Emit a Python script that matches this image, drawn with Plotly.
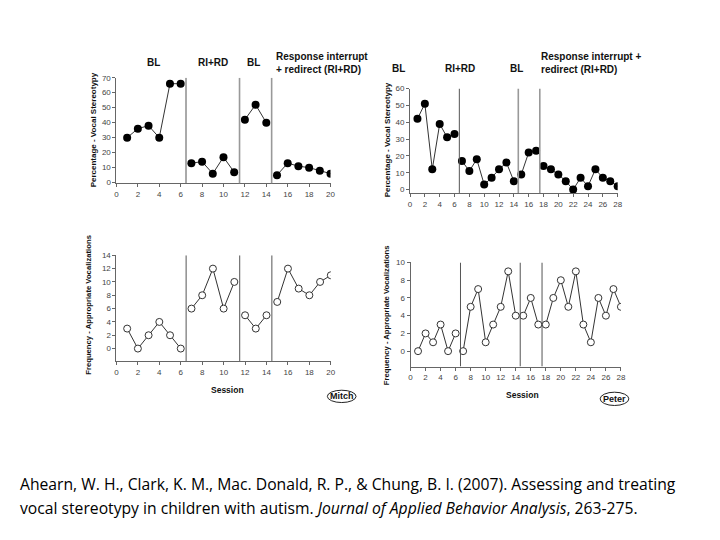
import plotly.graph_objects as go

# The page body adds an 8px margin, so the figure is drawn 8px smaller
# and all reference pixel positions are shifted by that offset.
OFF = 8
W, H = 720 - OFF, 540 - OFF

# ---------------- data ----------------
mitch_sessions = list(range(1, 21))
mitch_stereo = [30, 36, 38, 30, 66, 66, 13, 14, 6, 17, 7, 42, 52, 40, 5, 13, 11, 10, 8, 6]
mitch_vocal = [3, 0, 2, 4, 2, 0, 6, 8, 12, 6, 10, 5, 3, 5, 7, 12, 9, 8, 10, 11]
mitch_phase_ends = [6, 11, 14]          # last session of each phase before a change
mitch_phase_lines = [6.5, 11.5, 14.5]

peter_sessions = list(range(1, 29))
peter_stereo = [42, 51, 12, 39, 31, 33, 17, 11, 18, 3, 7, 12, 16, 5, 9, 22, 23,
                14, 12, 9, 5, 0, 7, 2, 12, 7, 5, 2]
peter_vocal = [0, 2, 1, 3, 0, 2, 0, 5, 7, 1, 3, 5, 9, 4, 4, 6, 3,
               3, 6, 8, 5, 9, 3, 1, 6, 4, 7, 5]
peter_phase_ends = [6, 14, 17]
peter_phase_lines = [6.65, 14.6, 17.5]

mitch_x_ticks = list(range(0, 21, 2))
peter_x_ticks = list(range(0, 29, 2))
mitch_stereo_ticks = list(range(0, 71, 10))
peter_stereo_ticks = list(range(0, 61, 10))
mitch_vocal_ticks = list(range(0, 15, 2))
peter_vocal_ticks = list(range(0, 11, 2))

phase_labels_mitch = ["BL", "RI+RD", "BL"]
phase_labels_peter = ["BL", "RI+RD", "BL"]
ri_label_mitch = "Response interrupt<br>+ redirect (RI+RD)"
ri_label_peter = "Response interrupt +<br>redirect (RI+RD)"
ylab_stereo = "Percentage - Vocal Stereotypy"
ylab_vocal = "Frequency - Appropriate Vocalizations"
citation_1 = "Ahearn, W. H., Clark, K. M., Mac. Donald, R. P., & Chung, B. I. (2007). Assessing and treating"
citation_2 = "vocal stereotypy in children with autism. <i>Journal of Applied Behavior Analysis</i>, 263-275."


def px_x(p):
    return (p - OFF) / W


def px_y(p):
    return 1 - (p - OFF) / H


def with_gaps(xs, ys, ends):
    ox, oy = [], []
    for x, y in zip(xs, ys):
        ox.append(x)
        oy.append(y)
        if x in ends:
            ox.append(None)
            oy.append(None)
    return ox, oy


fig = go.Figure()

panels = [
    # name, xs, ys, ends, lines, xrange, yrange, xdom(px), ydom(px: bottom, top), xticks, yticks, filled
    ("1", mitch_sessions, mitch_stereo, mitch_phase_ends, mitch_phase_lines, [0, 20], [-0.5, 70],
     (115.5, 331.7), (182, 74.7), mitch_x_ticks, mitch_stereo_ticks, True),
    ("2", peter_sessions, peter_stereo, peter_phase_ends, peter_phase_lines, [0, 28], [-2, 60],
     (412, 621.7), (191.7, 85.7), peter_x_ticks, peter_stereo_ticks, True),
    ("3", mitch_sessions, mitch_vocal, mitch_phase_ends, mitch_phase_lines, [0, 20], [-1.86, 14],
     (115.5, 332), (362.3, 255), mitch_x_ticks, mitch_vocal_ticks, False),
    ("4", peter_sessions, peter_vocal, peter_phase_ends, peter_phase_lines, [0, 28], [-1.74, 10],
     (412.5, 625), (368, 262.3), peter_x_ticks, peter_vocal_ticks, False),
]

font_tick = dict(family="Liberation Sans, Arial", size=8, color="#444")
shapes = []
for (name, xs, ys, ends, lines, xr, yr, xd, yd, xt, yt, filled) in panels:
    gx, gy = with_gaps(xs, ys, ends)
    xa = "x" if name == "1" else "x" + name
    ya = "y" if name == "1" else "y" + name
    if filled:
        marker = dict(size=8, color="black", line=dict(width=0))
    else:
        marker = dict(size=7, color="white", symbol="circle", line=dict(width=1, color="#333"))
    fig.add_trace(go.Scatter(x=gx, y=gy, mode="lines+markers", xaxis=xa, yaxis=ya,
                             line=dict(color="#333", width=1), marker=marker,
                             connectgaps=False, showlegend=False, hoverinfo="skip"))
    key = "" if name == "1" else name
    fig.update_layout(**{
        "xaxis" + key: dict(domain=[px_x(xd[0]), px_x(xd[1])], range=xr, anchor=ya,
                            tickvals=xt, ticks="outside", ticklen=3, tickcolor="#666",
                            showline=True, linecolor="#666", linewidth=1, showgrid=False,
                            zeroline=False, tickfont=font_tick, fixedrange=True),
        "yaxis" + key: dict(domain=[px_y(yd[0]), px_y(yd[1])], range=yr, anchor=xa,
                            tickvals=yt, ticks="outside", ticklen=3, tickcolor="#666",
                            showline=True, linecolor="#666", linewidth=1, showgrid=False,
                            zeroline=False, tickfont=font_tick, fixedrange=True),
    })
    for i, lx in enumerate(lines):
        if filled and i > 0:
            style = dict(color="#999", width=1.6)
        else:
            style = dict(color="#555", width=1)
        shapes.append(dict(type="line", xref=xa, yref=ya, x0=lx, x1=lx, y0=yr[0], y1=yr[1],
                           line=style))

# Oval name tags
shapes.append(dict(type="circle", xref="paper", yref="paper",
                   x0=px_x(328.5), x1=px_x(357.5), y0=px_y(404.5), y1=px_y(392),
                   line=dict(color="#222", width=1)))
shapes.append(dict(type="circle", xref="paper", yref="paper",
                   x0=px_x(604), x1=px_x(633), y0=px_y(407.5), y1=px_y(394),
                   line=dict(color="#222", width=1)))
fig.update_layout(shapes=shapes)

bold = dict(family="Liberation Sans, Arial", size=10, color="#111")
anns = []


def ann(text, x, y, xanchor="center", yanchor="middle", font=None, textangle=0, align="center"):
    anns.append(dict(text=text, x=px_x(x), y=px_y(y), xref="paper", yref="paper",
                     xanchor=xanchor, yanchor=yanchor, showarrow=False,
                     font=font or bold, textangle=textangle, align=align,
                     borderpad=0, borderwidth=0))


# Mitch phase labels
ann("<b>%s</b>" % phase_labels_mitch[0], 153, 59)
ann("<b>%s</b>" % phase_labels_mitch[1], 213, 59)
ann("<b>%s</b>" % phase_labels_mitch[2], 254, 59)
ann("<b>%s</b>" % ri_label_mitch, 277, 60, xanchor="left", align="left")
# Peter phase labels
ann("<b>%s</b>" % phase_labels_peter[0], 400, 65)
ann("<b>%s</b>" % phase_labels_peter[1], 462, 65)
ann("<b>%s</b>" % phase_labels_peter[2], 520, 65)
ann("<b>%s</b>" % ri_label_peter, 544, 60, xanchor="left", align="left")

ylab_font_top = dict(family="Liberation Sans, Arial", size=8, color="#111")
ylab_font_bot = dict(family="Liberation Sans, Arial", size=7.7, color="#111")
small_bold = dict(family="Liberation Sans, Arial", size=8.5, color="#111")
ann("<b>%s</b>" % ylab_stereo, 92, 128, font=ylab_font_top, textangle=-90)
ann("<b>%s</b>" % ylab_stereo, 389, 138, font=ylab_font_top, textangle=-90)
ann("<b>%s</b>" % ylab_vocal, 87, 305, font=ylab_font_bot, textangle=-90)
ann("<b>%s</b>" % ylab_vocal, 388.5, 316, font=ylab_font_bot, textangle=-90)
ann("<b>Session</b>", 228, 391.5, font=small_bold)
ann("<b>Session</b>", 526, 397, font=small_bold)
ann("<b>Mitch</b>", 343, 398.3, font=dict(family="Liberation Sans, Arial", size=9, color="#111"))
ann("<b>Peter</b>", 618.5, 400.7, font=dict(family="Liberation Sans, Arial", size=9, color="#111"))

cite_font = dict(family="Open Sans, Liberation Sans", size=15.7, color="#000")
ann(citation_1, 18, 487, xanchor="left", align="left", font=cite_font)
ann(citation_2, 18, 512, xanchor="left", align="left", font=cite_font)

fig.update_layout(annotations=anns, width=W, height=H,
                  margin=dict(l=0, r=0, t=0, b=0),
                  paper_bgcolor="white", plot_bgcolor="white")

fig.write_html("out.html")
